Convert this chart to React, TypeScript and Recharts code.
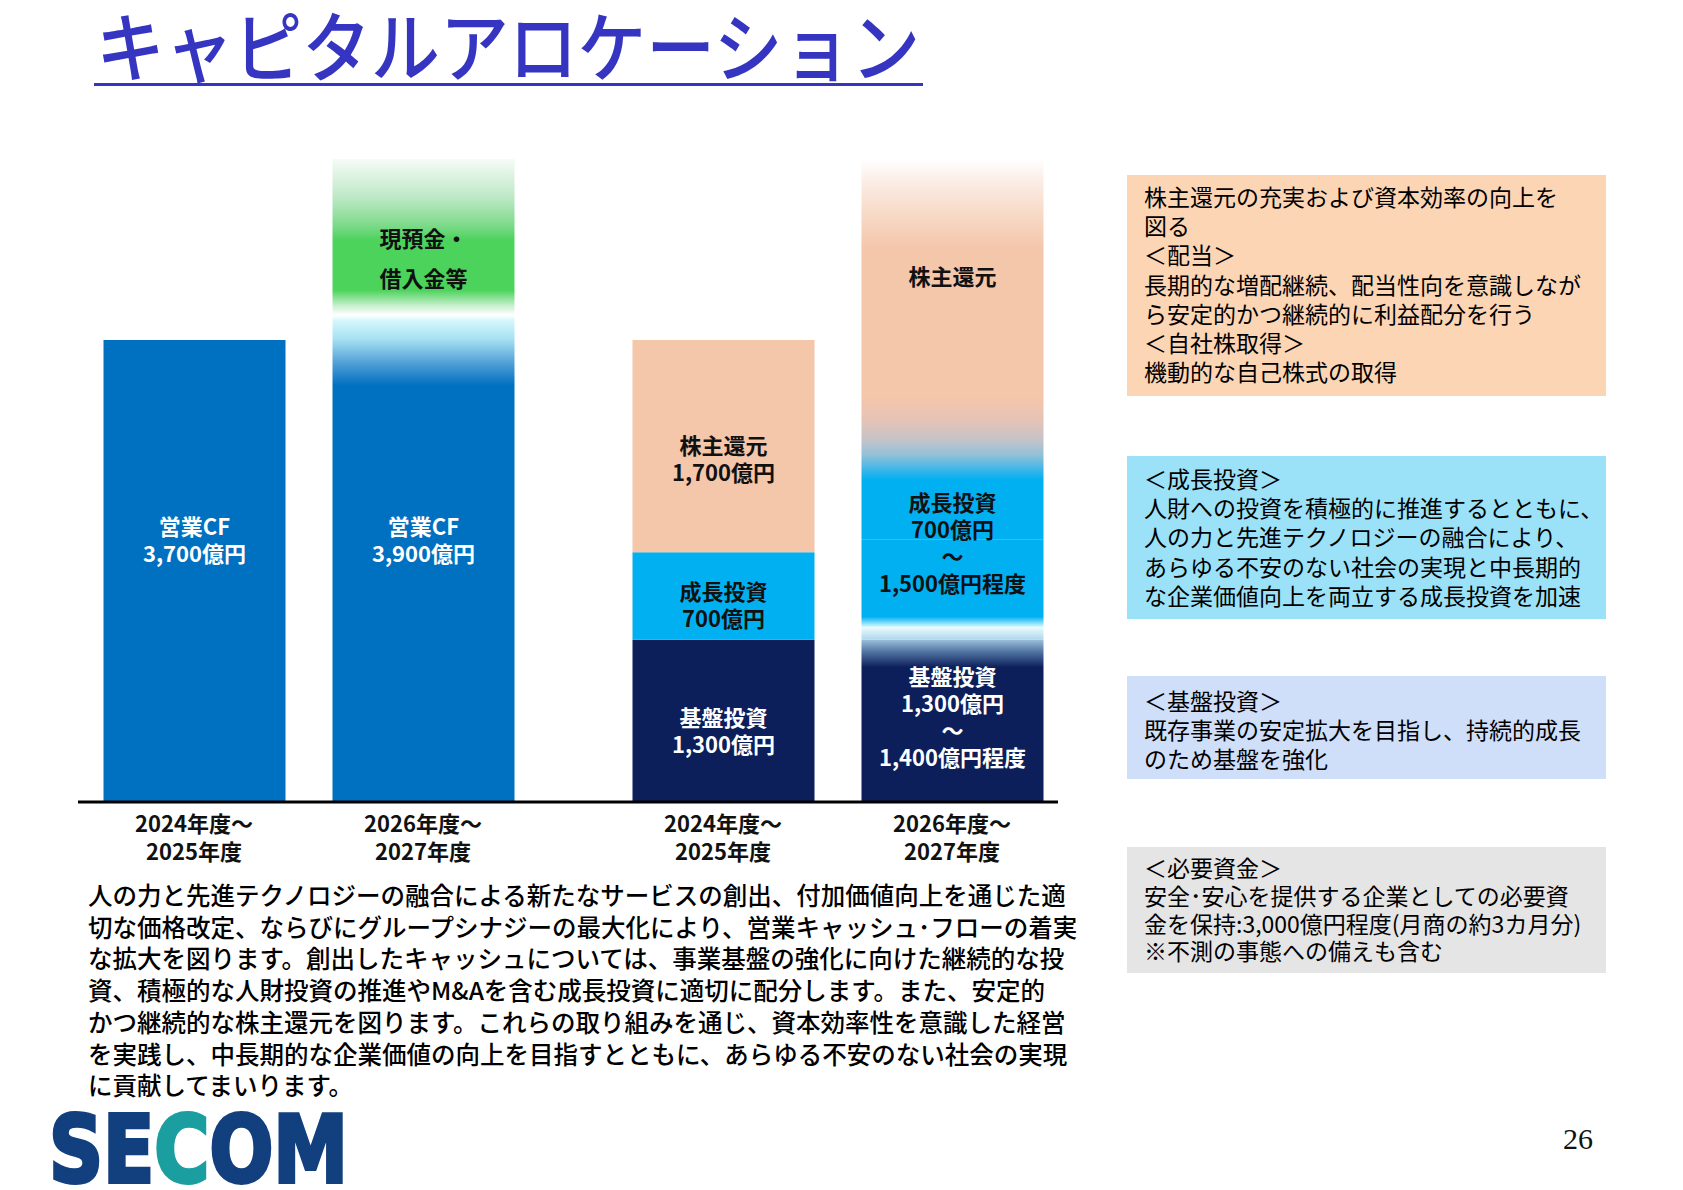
import { BarChart, Bar, XAxis, YAxis, Cell, LabelList } from 'recharts';

// 期間（カテゴリ）
const periods = ['2024年度～\n2025年度', '2026年度～\n2027年度'];

// キャッシュの源泉（億円）
const operatingCF = [3700, 3900];
const cashAndBorrowing = [0, 1250]; // 現預金・借入金等（図の高さから推定）

// キャッシュの配分（億円）
const baseInvest = [1300, 1300];
const baseInvestUpper = [0, 100]; // 1,300 → 1,400億円程度
const growthInvest = [700, 700];
const growthInvestUpper = [0, 800]; // 700 → 1,500億円程度
const shareholderReturn = [1700, 2250];

const Y_MAX = 5150;

// バー内のテキスト
const cfText = [['営業CF', '3,700億円'], ['営業CF', '3,900億円']];
const cashText = [null, ['現預金・', '借入金等']];
const baseText = [['基盤投資', '1,300億円'], ['基盤投資', '1,300億円', '～', '1,400億円程度']];
const growthText = [['成長投資', '700億円'], null];
const growthUpperText = [null, ['成長投資', '700億円', '～', '1,500億円程度']];
const returnText = [['株主還元', '1,700億円'], ['株主還元']];

// 右側の説明ボックス
const noteReturn = [
    '株主還元の充実および資本効率の向上を',
    '図る',
    '＜配当＞',
    '長期的な増配継続、配当性向を意識しなが',
    'ら安定的かつ継続的に利益配分を行う',
    '＜自社株取得＞',
    '機動的な自己株式の取得',
];
const noteGrowth = [
    '＜成長投資＞',
    '人財への投資を積極的に推進するとともに、',
    '人の力と先進テクノロジーの融合により、',
    'あらゆる不安のない社会の実現と中長期的',
    'な企業価値向上を両立する成長投資を加速',
];
const noteBase = [
    '＜基盤投資＞',
    '既存事業の安定拡大を目指し、持続的成長',
    'のため基盤を強化',
];
const noteFunds = [
    '＜必要資金＞',
    '安全･安心を提供する企業としての必要資',
    '金を保持:3,000億円程度(月商の約3カ月分)',
    '※不測の事態への備えも含む',
];

const bodyText = [
    '人の力と先進テクノロジーの融合による新たなサービスの創出、付加価値向上を通じた適',
    '切な価格改定、ならびにグループシナジーの最大化により、営業キャッシュ･フローの着実',
    'な拡大を図ります。創出したキャッシュについては、事業基盤の強化に向けた継続的な投',
    '資、積極的な人財投資の推進やM&Aを含む成長投資に適切に配分します。また、安定的',
    'かつ継続的な株主還元を図ります。これらの取り組みを通じ、資本効率性を意識した経営',
    'を実践し、中長期的な企業価値の向上を目指すとともに、あらゆる不安のない社会の実現',
    'に貢献してまいります。',
];

const sourceData = periods.map((p, i) => ({
    period: p,
    operatingCF: operatingCF[i],
    cashAndBorrowing: cashAndBorrowing[i],
}));

const useData = periods.map((p, i) => ({
    period: p,
    baseInvest: baseInvest[i],
    baseInvestUpper: baseInvestUpper[i],
    growthInvest: growthInvest[i],
    growthInvestUpper: growthInvestUpper[i],
    shareholderReturn: shareholderReturn[i],
}));

const FONT = "'Noto Sans CJK JP', 'Noto Sans', sans-serif";
const BLUE = '#0070C0';
const NAVY = '#0C1F5B';
const CYAN = '#00B0F0';
const PEACH = '#F4C6AA';
const GREEN = '#4CD35C';
const TITLE = '#3535C2';

const BAR_W = 182;
const CHART_H = 880;
const MARGIN_TOP = 159;
const AXIS_H = 60;
const MARGIN_BOTTOM = CHART_H - MARGIN_TOP - 643 - AXIS_H;

interface LabelStyle {
    lines: (string[] | null)[];
    dy: number[];
    lh: number;
    color: string;
}

// LabelList には dataKey="period" を渡し、期間名から列を引く（値0の区間が省かれても崩れない）
const segLabel = (st: LabelStyle) => (props: any) => {
    const vb = props.viewBox || props;
    const i = periods.indexOf(String(props.value));
    if (i < 0) return null;
    const lines = st.lines[i];
    if (!lines || vb.width == null) return null;
    const cx = vb.x + vb.width / 2;
    const cy = vb.y + vb.height / 2 + st.dy[i];
    const n = lines.length;
    return (
        <text textAnchor="middle" fill={st.color} fontSize={22} fontWeight={700} fontFamily={FONT}>
            {lines.map((l, k) => (
                <tspan key={k} x={cx} y={cy + (k - (n - 1) / 2) * st.lh} dominantBaseline="central">
                    {l}
                </tspan>
            ))}
        </text>
    );
};

const YearTick = ({ x, y, payload }: any) => {
    const lines = String(payload.value).split('\n');
    return (
        <text textAnchor="middle" fill="#111" fontSize={22} fontWeight={700} fontFamily={FONT}>
            {lines.map((l, k) => (
                <tspan key={k} x={x} y={y + 12 + k * 28} dominantBaseline="central">
                    {l}
                </tspan>
            ))}
        </text>
    );
};

function Gradients() {
    return (
        <defs>
            <linearGradient id="gCF" x1="0" y1="0" x2="0" y2="1">
                <stop offset="0" stopColor="#ffffff" />
                <stop offset="0.012" stopColor="#D4F7FC" />
                <stop offset="0.05" stopColor="#A5E0F2" />
                <stop offset="0.1" stopColor="#4E9ED6" />
                <stop offset="0.145" stopColor={BLUE} />
                <stop offset="1" stopColor={BLUE} />
            </linearGradient>
            <linearGradient id="gCash" x1="0" y1="0" x2="0" y2="1">
                <stop offset="0" stopColor="#F6FBF7" />
                <stop offset="0.25" stopColor="#BCE8C5" />
                <stop offset="0.42" stopColor="#7FDA8C" />
                <stop offset="0.52" stopColor={GREEN} />
                <stop offset="0.84" stopColor={GREEN} />
                <stop offset="0.94" stopColor="#C8F0CD" />
                <stop offset="1" stopColor="#ffffff" />
            </linearGradient>
            <linearGradient id="gBase" x1="0" y1="0" x2="0" y2="1">
                <stop offset="0" stopColor="#9CC0DA" />
                <stop offset="0.07" stopColor="#5479A5" />
                <stop offset="0.17" stopColor={NAVY} />
                <stop offset="1" stopColor={NAVY} />
            </linearGradient>
            <linearGradient id="gBaseUp" x1="0" y1="0" x2="0" y2="1">
                <stop offset="0" stopColor="#E8FCFF" />
                <stop offset="1" stopColor="#B0D6EA" />
            </linearGradient>
            <linearGradient id="gGrowth" x1="0" y1="0" x2="0" y2="1">
                <stop offset="0" stopColor={CYAN} />
                <stop offset="0.88" stopColor={CYAN} />
                <stop offset="0.95" stopColor="#7FDDF8" />
                <stop offset="1" stopColor="#E0FAFF" />
            </linearGradient>
            <linearGradient id="gGrowthUp" x1="0" y1="0" x2="0" y2="1">
                <stop offset="0" stopColor="#C4C3C9" />
                <stop offset="0.15" stopColor="#92C1D8" />
                <stop offset="0.3" stopColor="#3CB5EA" />
                <stop offset="0.4" stopColor={CYAN} />
                <stop offset="1" stopColor={CYAN} />
            </linearGradient>
            <linearGradient id="gReturn" x1="0" y1="0" x2="0" y2="1">
                <stop offset="0" stopColor="#ffffff" />
                <stop offset="0.08" stopColor="#FBEDE5" />
                <stop offset="0.2" stopColor="#F7D9C6" />
                <stop offset="0.32" stopColor={PEACH} />
                <stop offset="0.85" stopColor={PEACH} />
                <stop offset="0.93" stopColor="#E6C3B7" />
                <stop offset="1" stopColor="#C4C3C9" />
            </linearGradient>
        </defs>
    );
}

function NoteBox({ lines, top, height, bg, pad, lh }: { lines: string[]; top: number; height: number; bg: string; pad: number; lh: number }) {
    return (
        <div
            style={{
                position: 'absolute',
                left: 1127,
                top,
                width: 479,
                height,
                background: bg,
                boxSizing: 'border-box',
                paddingTop: pad,
                paddingLeft: 17,
                fontFamily: FONT,
                fontSize: 23,
                lineHeight: `${lh}px`,
                color: '#000',
            }}
        >
            {lines.map((l, i) => (
                <div key={i} style={{ whiteSpace: 'nowrap' }}>{l}</div>
            ))}
        </div>
    );
}

export default function App() {
    return (
        <div
            style={{
                position: 'absolute',
                left: 0,
                top: 0,
                width: 1683,
                height: 1190,
                background: '#fff',
                overflow: 'hidden',
                fontFamily: FONT,
            }}
        >
            {/* Title */}
            <div
                style={{
                    position: 'absolute',
                    left: 96,
                    top: 5,
                    fontSize: 76,
                    lineHeight: '76px',
                    fontWeight: 500,
                    color: TITLE,
                    whiteSpace: 'nowrap',
                    transform: 'scaleX(0.905)',
                    transformOrigin: 'left top',
                }}
            >
                キャピタルアロケーション
            </div>
            <div style={{ position: 'absolute', left: 94, top: 83, width: 829, height: 3, background: TITLE }} />

            {/* 源泉 */}
            <div style={{ position: 'absolute', left: 0, top: 0 }}>
                <BarChart
                    width={560}
                    height={CHART_H}
                    data={sourceData}
                    margin={{ top: MARGIN_TOP, right: 0, left: 78, bottom: MARGIN_BOTTOM }}
                    barSize={BAR_W}
                >
                    <Gradients />
                    <XAxis
                        dataKey="period"
                        height={AXIS_H}
                        padding={{ left: 1.5, right: 22.5 }}
                        axisLine={{ stroke: '#000', strokeWidth: 3 }}
                        tickLine={false}
                        interval={0}
                        tick={<YearTick />}
                    />
                    <YAxis hide domain={[0, Y_MAX]} allowDataOverflow />
                    <Bar dataKey="operatingCF" stackId="s" isAnimationActive={false}>
                        {sourceData.map((_, i) => (
                            <Cell key={i} fill={i === 0 ? BLUE : 'url(#gCF)'} />
                        ))}
                        <LabelList dataKey="period" content={segLabel({ lines: cfText, dy: [-33, -20.5], lh: 27, color: '#fff' })} />
                    </Bar>
                    <Bar dataKey="cashAndBorrowing" stackId="s" isAnimationActive={false}>
                        {sourceData.map((_, i) => (
                            <Cell key={i} fill={i === 0 ? GREEN : 'url(#gCash)'} />
                        ))}
                        <LabelList dataKey="period" content={segLabel({ lines: cashText, dy: [0, 20], lh: 40, color: '#111' })} />
                    </Bar>
                </BarChart>
            </div>

            {/* 配分 */}
            <div style={{ position: 'absolute', left: 560, top: 0 }}>
                <BarChart
                    width={498}
                    height={CHART_H}
                    data={useData}
                    margin={{ top: MARGIN_TOP, right: 0, left: 0, bottom: MARGIN_BOTTOM }}
                    barSize={BAR_W}
                >
                    <Gradients />
                    <XAxis
                        dataKey="period"
                        height={AXIS_H}
                        padding={{ left: 48.5, right: -8.5 }}
                        axisLine={{ stroke: '#000', strokeWidth: 3 }}
                        tickLine={false}
                        interval={0}
                        tick={<YearTick />}
                    />
                    <YAxis hide domain={[0, Y_MAX]} allowDataOverflow />
                    <Bar dataKey="baseInvest" stackId="s" isAnimationActive={false}>
                        {useData.map((_, i) => (
                            <Cell key={i} fill={i === 0 ? NAVY : 'url(#gBase)'} />
                        ))}
                        <LabelList dataKey="period" content={segLabel({ lines: baseText, dy: [9, -5], lh: 27, color: '#fff' })} />
                    </Bar>
                    <Bar dataKey="baseInvestUpper" stackId="s" isAnimationActive={false}>
                        {useData.map((_, i) => (
                            <Cell key={i} fill={i === 0 ? NAVY : 'url(#gBaseUp)'} />
                        ))}
                    </Bar>
                    <Bar dataKey="growthInvest" stackId="s" isAnimationActive={false}>
                        {useData.map((_, i) => (
                            <Cell key={i} fill={i === 0 ? CYAN : 'url(#gGrowth)'} />
                        ))}
                        <LabelList dataKey="period" content={segLabel({ lines: growthText, dy: [8, 0], lh: 27, color: '#111' })} />
                    </Bar>
                    <Bar dataKey="growthInvestUpper" stackId="s" isAnimationActive={false}>
                        {useData.map((_, i) => (
                            <Cell key={i} fill={i === 0 ? CYAN : 'url(#gGrowthUp)'} />
                        ))}
                        <LabelList dataKey="period" content={segLabel({ lines: growthUpperText, dy: [0, 52], lh: 27, color: '#111' })} />
                    </Bar>
                    <Bar dataKey="shareholderReturn" stackId="s" isAnimationActive={false}>
                        {useData.map((_, i) => (
                            <Cell key={i} fill={i === 0 ? PEACH : 'url(#gReturn)'} />
                        ))}
                        <LabelList dataKey="period" content={segLabel({ lines: returnText, dy: [11, -24], lh: 27, color: '#111' })} />
                    </Bar>
                </BarChart>
            </div>

            {/* 説明 */}
            <NoteBox lines={noteReturn} top={175} height={221} bg="#FCD5B4" pad={7} lh={29.2} />
            <NoteBox lines={noteGrowth} top={456} height={163} bg="#9BE2F8" pad={8} lh={29.2} />
            <NoteBox lines={noteBase} top={676} height={103} bg="#CFDEF9" pad={10} lh={29} />
            <NoteBox lines={noteFunds} top={847} height={126} bg="#E5E5E5" pad={7} lh={27.8} />

            {/* 本文 */}
            <div
                style={{
                    position: 'absolute',
                    left: 88,
                    top: 879,
                    fontSize: 24.5,
                    lineHeight: '31.7px',
                    fontWeight: 500,
                    color: '#000',
                }}
            >
                {bodyText.map((l, i) => (
                    <div key={i} style={{ whiteSpace: 'nowrap' }}>{l}</div>
                ))}
            </div>

            {/* Logo */}
            <svg style={{ position: 'absolute', left: 0, top: 1090 }} width={420} height={100}>
                <text
                    x={49}
                    y={92}
                    textLength={299}
                    lengthAdjust="spacingAndGlyphs"
                    fontFamily="'DejaVu Sans', sans-serif"
                    fontWeight={700}
                    fontSize={92}
                    fill="#123F7E"
                    stroke="#123F7E"
                    strokeWidth={4}
                >
                    SE<tspan fill="#1A9E9F" stroke="#1A9E9F">C</tspan>OM
                </text>
            </svg>

            <div
                style={{
                    position: 'absolute',
                    left: 1563,
                    top: 1122,
                    fontFamily: "'Liberation Serif', serif",
                    fontSize: 30,
                    lineHeight: '34px',
                    color: '#111',
                }}
            >
                26
            </div>
        </div>
    );
}
